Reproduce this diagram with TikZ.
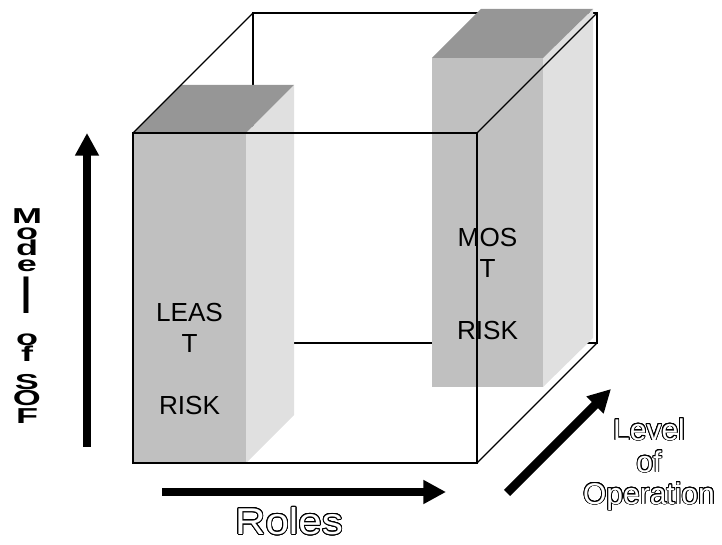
\documentclass[tikz,border=0pt]{standalone}
\usepackage{fontspec}
\setmainfont{Liberation Sans}
\usepackage{graphicx}
\usepackage[copies]{contour}
\contourlength{0.6pt}
\contournumber{24}
\usetikzlibrary{arrows.meta,positioning}
\definecolor{colFront}{RGB}{192,192,192}
\definecolor{colSide}{RGB}{224,224,224}
\definecolor{colTop}{RGB}{150,150,150}
\tikzset{
	edge/.style = {line width=1pt, black},
	bigarrow/.style = {line width=6.5pt, -{Triangle[width=17pt,length=17pt]}},
	risklabel/.style = {font=\fontsize{19.6}{23.25}\selectfont, align=center, inner sep=0pt},
	axislabel/.style = {font=\fontsize{22.5}{24}\selectfont, align=center, inner sep=0pt},
}
\newcommand\outlined[1]{\contour{black}{\textcolor{white}{#1}}}
\newcommand\squash[1]{\scalebox{1}[0.6]{#1}}

\begin{document}
\begin{tikzpicture}[x=0.75pt,y=-0.75pt]
\useasboundingbox (0,0) rectangle (722,545);
%----------------------------------------------------------------------------
% Corners of the cube
\coordinate (frontTL) at (133,133);
\coordinate (frontTR) at (477,133);
\coordinate (frontBR) at (477,463);
\coordinate (frontBL) at (133,463);
\coordinate (backTL) at (253,13);
\coordinate (backTR) at (597,13);
\coordinate (backBR) at (597,343);
\coordinate (backBL) at (253,343);

% hidden edges at the back
\draw [edge] (backTL) rectangle (backBR);
\draw [edge] (frontBL) -- (backBL);

%----------------------------------------------------------------------------
% Least risk column
\fill [colFront] (133,133) rectangle (246,463);
\fill [colSide] (246,133) -- (294,85) -- (294,415) -- (246,463) -- cycle;
\fill [colTop] (133,133) -- (181,85) -- (294,85) -- (246,133) -- cycle;

% Most risk column
\fill [colFront] (432,58) rectangle (543,387);
\fill [colSide] (543,58) -- (593,9) -- (593,338) -- (543,387) -- cycle;
\fill [colTop] (432,58) -- (481,9) -- (593,9) -- (543,58) -- cycle;

\node (leastRisk) [risklabel, anchor=north] at (189.5,303) {LEAS\\T\\[23.25pt]RISK};
\node (mostRisk) [risklabel, anchor=north] at (487.5,228) {MOS\\T\\[23.25pt]RISK};

%----------------------------------------------------------------------------
% front edges drawn over the columns
\draw [edge] (frontTL) rectangle (frontBR);
\draw [edge] (frontTL) -- (backTL);
\draw [edge] (frontTR) -- (backTR);
\draw [edge] (frontBR) -- (backBR);

%----------------------------------------------------------------------------
% Axis arrows
\coordinate (sofStart) at (87,447);
\coordinate (sofEnd) at (87,133);
\coordinate (rolesStart) at (162,492);
\coordinate (rolesEnd) at (446,492);
\coordinate (levelStart) at (507,493);
\coordinate (levelEnd) at (611,389);
\draw [bigarrow] (sofStart) -- (sofEnd);
\draw [bigarrow] (rolesStart) -- (rolesEnd);
\draw [bigarrow] (levelStart) -- (levelEnd);

% Axis labels
\node (sofLabel) [anchor=north, align=center, inner sep=0pt,
	font=\fontsize{27}{12}\selectfont\bfseries] at (27,208)
	{\squash{M}\\\squash{o}\\\squash{d}\\\squash{e}\\[3pt]\scalebox{1}[1.4]{l}\\[12pt]%
	 \squash{o}\\\squash{f}\\[9pt]\squash{S}\\\squash{O}\\[2pt]\squash{F}};
\node (rolesLabel) [axislabel, anchor=north, font=\fontsize{28}{30}\selectfont] at (289,507)
	{\scalebox{1.13}[1]{\outlined{Roles}}};
\node (levelLabel) [axislabel, anchor=north] at (649,418)
	{\outlined{Level}\\\outlined{of}\\\outlined{Operation}};

\end{tikzpicture}
\end{document}
